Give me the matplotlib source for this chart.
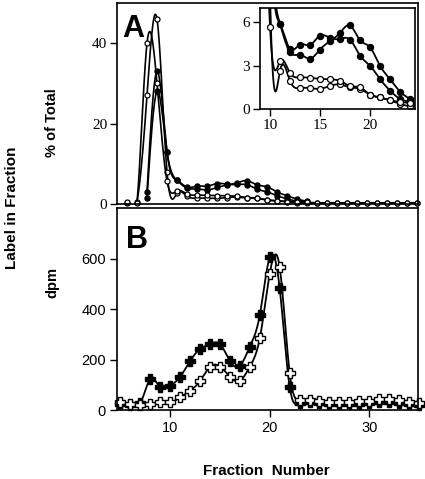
import numpy as np
import matplotlib
matplotlib.use("Agg")
import matplotlib.pyplot as plt

# ---- data ----
# panel A: % of total, fractions 6..35 (open) and 8..24 (filled)
frac_open = list(range(6, 36))
open_a = [0.3, 0.6, 27, 46, 8, 2.65, 1.95, 1.45, 1.45, 1.4, 1.6, 1.7, 1.5, 1.4, 1.0,
          0.8, 0.6, 0.35, 0.2, 0.2, 0.2, 0.2, 0.2, 0.2, 0.2, 0.2, 0.2, 0.2, 0.2, 0.2]
open_b = [0.5, 0.3, 40, 30, 5.7, 3.3, 2.5, 2.2, 2.15, 2.1, 2.05, 1.95, 1.6, 1.5, 1.0,
          0.8, 0.6, 0.5, 0.4, 0.3, 0.3, 0.3, 0.3, 0.3, 0.3, 0.3, 0.3, 0.3, 0.3, 0.3]
frac_fill = list(range(8, 25))
fill_a = [3, 33, 13, 5.9, 4.16, 4.47, 4.43, 5.09, 4.93, 4.86, 4.81, 3.7, 3.0, 2.07, 1.28, 0.7, 0.5]
fill_b = [1.5, 28, 13, 5.9, 3.93, 3.77, 3.49, 4.12, 4.7, 5.28, 5.79, 4.77, 4.28, 3.0, 2.07, 1.21, 0.7]

# panel B: dpm, fractions 5..35
frac_b = list(range(5, 36))
dpm_open = [33, 24, 20, 22, 30, 30, 50, 77, 115, 172, 172, 132, 115, 172, 284, 540, 565, 148,
            38, 40, 35, 33, 32, 33, 34, 35, 42, 44, 38, 30, 28]
dpm_fill = [25, 20, 27, 122, 90, 95, 132, 194, 242, 261, 261, 194, 175, 251, 376, 605, 482, 92,
            28, 30, 26, 22, 25, 25, 24, 26, 30, 32, 28, 24, 20]


def spline(x, y, n=16):
    # natural cubic spline, only used to draw the smooth connecting lines
    x = np.asarray(x, float)
    y = np.asarray(y, float)
    h = np.diff(x)
    m = len(x)
    A = np.zeros((m, m))
    r = np.zeros(m)
    A[0, 0] = A[-1, -1] = 1
    for i in range(1, m - 1):
        A[i, i - 1] = h[i - 1]
        A[i, i] = 2 * (h[i - 1] + h[i])
        A[i, i + 1] = h[i]
        r[i] = 3 * ((y[i + 1] - y[i]) / h[i] - (y[i] - y[i - 1]) / h[i - 1])
    c = np.linalg.solve(A, r)
    b = (y[1:] - y[:-1]) / h - h * (2 * c[:-1] + c[1:]) / 3
    d = (c[1:] - c[:-1]) / (3 * h)
    xs, ys = [], []
    for i in range(m - 1):
        t = np.linspace(0, h[i], n, endpoint=False)
        xs.append(x[i] + t)
        ys.append(y[i] + b[i] * t + c[i] * t ** 2 + d[i] * t ** 3)
    xs.append([x[-1]])
    ys.append([y[-1]])
    return np.concatenate(xs), np.concatenate(ys)


W, H = 425, 479
fig = plt.figure(figsize=(W / 100, H / 100), dpi=100)
axA = fig.add_axes([117 / W, 1 - 204 / H, 301 / W, 201 / H])
axB = fig.add_axes([117 / W, 1 - 410 / H, 301 / W, 202 / H])
axI = fig.add_axes([260 / W, 1 - 109 / H, 155 / W, 101 / H])

serif = "Liberation Serif"
sans = "Liberation Sans"


def draw_circles(ax, ms, lw, clip):
    for xv, yv in [(frac_fill, fill_a), (frac_fill, fill_b)]:
        sx, sy = spline(xv, yv)
        ax.plot(sx, sy, color="black", lw=lw)
        ax.plot(xv, yv, "o", ms=ms, mfc="black", mec="black", clip_on=clip)
    for xv, yv in [(frac_open, open_a), (frac_open, open_b)]:
        sx, sy = spline(xv, yv)
        ax.plot(sx, sy, color="black", lw=lw)
        ax.plot(xv, yv, "o", ms=ms, mfc="white", mec="black", mew=0.9, clip_on=clip)


# panel A
draw_circles(axA, 3.6, 1.2, False)
axA.set_xlim(5, 35.1)
axA.set_ylim(0, 50)
axA.set_xticks([])
axA.set_yticks([0, 20, 40])
axA.tick_params(axis="y", direction="out", length=5, width=1, pad=2, labelsize=11,
                labelfontfamily=serif)

# inset
axI.set_facecolor("white")
axI.set_zorder(3)
draw_circles(axI, 4.3, 1.3, True)
axI.set_xlim(9, 24.5)
axI.set_ylim(0, 7)
axI.set_xticks([10, 15, 20])
axI.set_yticks([0, 3, 6])
axI.tick_params(direction="out", length=5, width=1, pad=2, labelsize=11,
                labelfontfamily=serif)

# panel B
for yv, face in [(dpm_fill, "black"), (dpm_open, "white")]:
    sx, sy = spline(frac_b, yv)
    axB.plot(sx, sy, color="black", lw=1.3)
    axB.plot(frac_b, yv, "P", ms=6.5, mfc=face, mec="black", mew=1.0, clip_on=False)
axB.set_xlim(4.65, 34.9)
axB.set_ylim(0, 800)
axB.set_xticks([10, 20, 30])
axB.set_yticks([0, 200, 400, 600])
axB.tick_params(direction="out", length=5, width=1, pad=3, labelsize=10.5,
                labelfontfamily=sans)

for ax in (axA, axB, axI):
    for s in ax.spines.values():
        s.set_linewidth(1.2)

fig.text(122 / W, 1 - 37 / H, "A", fontsize=22, fontweight="bold", family=sans, va="baseline")
fig.text(126 / W, 1 - 248 / H, "B", fontsize=22, fontweight="bold", family=sans, va="baseline")
fig.text(12 / W, 1 - 208 / H, "Label in Fraction", rotation=90, fontsize=11,
         fontweight="bold", family=sans, ha="center", va="center")
fig.text(52 / W, 1 - 123 / H, "% of Total", rotation=90, fontsize=10.5,
         fontweight="bold", family=sans, ha="center", va="center")
fig.text(52 / W, 1 - 283 / H, "dpm", rotation=90, fontsize=10.5,
         fontweight="bold", family=sans, ha="center", va="center")
fig.text(266 / W, 1 - 471 / H, "Fraction  Number", fontsize=11,
         fontweight="bold", family=sans, ha="center", va="center")

fig.savefig("out.png", dpi=100)
